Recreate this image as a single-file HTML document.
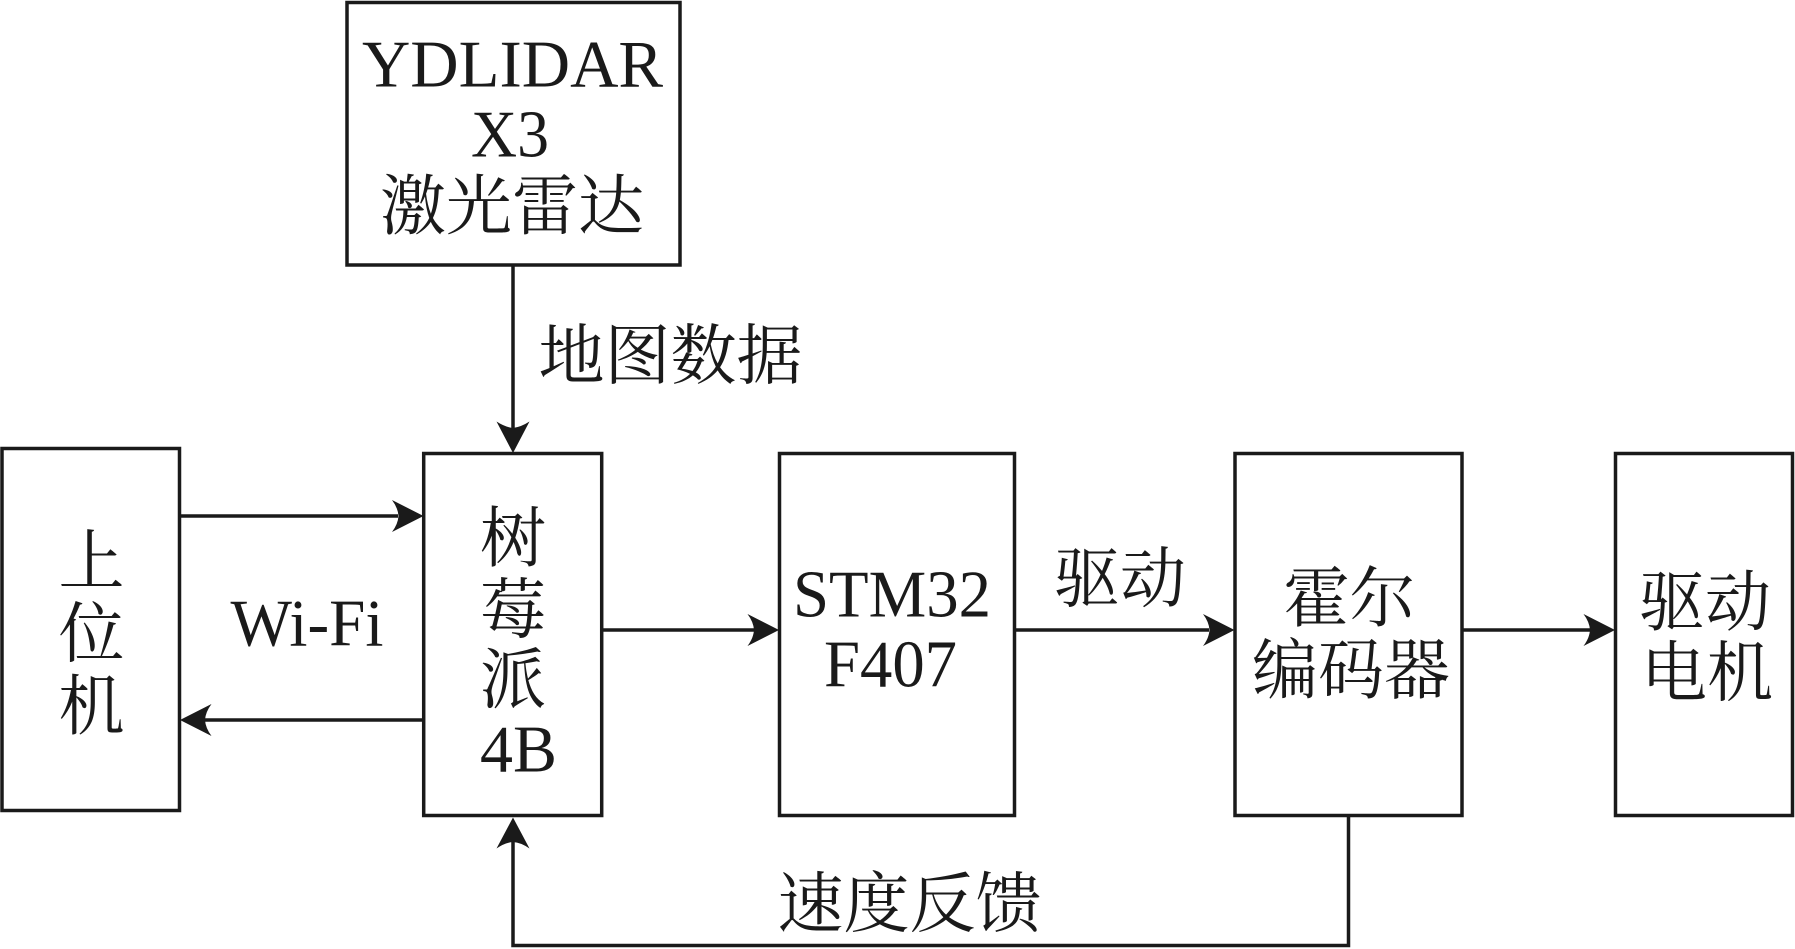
<!DOCTYPE html>
<html>
<head>
<meta charset="utf-8">
<style>
html,body{margin:0;padding:0;background:#fff;}
svg{display:block;}
text{font-family:"Liberation Serif","Noto Serif CJK SC",serif;fill:#1a1a1a;}
.cjk{font-size:66px;}
.lat{font-size:67px;}
</style>
</head>
<body>
<svg width="1795" height="949" viewBox="0 0 1795 949" xmlns="http://www.w3.org/2000/svg">
<g fill="none" stroke="#1a1a1a" stroke-width="3.5">
  <!-- boxes -->
  <rect x="347" y="2.5" width="333" height="262.5"/>
  <rect x="2" y="448.5" width="177.5" height="362"/>
  <rect x="423.7" y="453.5" width="178" height="362"/>
  <rect x="779.5" y="453.5" width="235" height="362"/>
  <rect x="1235" y="453.5" width="227" height="362"/>
  <rect x="1615.5" y="453.5" width="177" height="362"/>
  <!-- connectors -->
  <line x1="513" y1="265" x2="513" y2="428"/>
  <line x1="179.5" y1="516" x2="398" y2="516"/>
  <line x1="423.7" y1="720" x2="205" y2="720"/>
  <line x1="601.7" y1="630" x2="754" y2="630"/>
  <line x1="1014.5" y1="630" x2="1209" y2="630"/>
  <line x1="1462" y1="630" x2="1590" y2="630"/>
  <polyline points="1348.5,815.5 1348.5,945.5 513,945.5 513,842"/>
</g>
<g fill="#1a1a1a" stroke="none">
  <!-- down arrow into Pi -->
  <path d="M513,453 L496.5,421.5 Q505,427 513,428 Q521,427 529.5,421.5 Z"/>
  <!-- right arrow into Pi -->
  <path d="M423.5,516 L392,500 Q398,508 398.5,516 Q398,524 392,532 Z"/>
  <!-- left arrow into host -->
  <path d="M180,720 L211.5,704 Q205.5,712 205,720 Q205.5,728 211.5,736 Z"/>
  <!-- Pi -> STM -->
  <path d="M779,630 L747.5,614 Q753.5,622 754,630 Q753.5,638 747.5,646 Z"/>
  <!-- STM -> Hall -->
  <path d="M1234.5,630 L1203,614 Q1209,622 1209.5,630 Q1209,638 1203,646 Z"/>
  <!-- Hall -> Motor -->
  <path d="M1615,630 L1583.5,614 Q1589.5,622 1590,630 Q1589.5,638 1583.5,646 Z"/>
  <!-- feedback up arrow -->
  <path d="M513,817.5 L496.5,848.5 Q505,842.5 513,842 Q521,842.5 529.5,848.5 Z"/>
</g>

<!-- LIDAR -->
<text class="lat" x="512.5" y="86.7" text-anchor="middle" textLength="301" lengthAdjust="spacingAndGlyphs">YDLIDAR</text>
<text class="lat" x="510" y="156.7" text-anchor="middle" textLength="78" lengthAdjust="spacingAndGlyphs">X3</text>
<text class="cjk" x="512" y="229" text-anchor="middle">激光雷达</text>

<!-- map data label -->
<text class="cjk" x="670.5" y="378.5" text-anchor="middle">地图数据</text>

<!-- host -->
<text class="cjk" x="91.5" y="584" text-anchor="middle">上</text>
<text class="cjk" x="91.5" y="656.5" text-anchor="middle">位</text>
<text class="cjk" x="91.5" y="729" text-anchor="middle">机</text>

<!-- Wi-Fi -->
<text class="lat" x="307" y="645.7" text-anchor="middle" textLength="153" lengthAdjust="spacingAndGlyphs">Wi-Fi</text>

<!-- Raspberry Pi -->
<text class="cjk" x="513" y="561" text-anchor="middle">树</text>
<text class="cjk" x="513" y="632.5" text-anchor="middle">莓</text>
<text class="cjk" x="513" y="702.5" text-anchor="middle">派</text>
<text class="lat" x="518.5" y="771.7" text-anchor="middle" textLength="77" lengthAdjust="spacingAndGlyphs">4B</text>

<!-- STM32 -->
<text class="lat" x="892" y="616.7" text-anchor="middle" textLength="198" lengthAdjust="spacingAndGlyphs">STM32</text>
<text class="lat" x="890.5" y="686.7" text-anchor="middle" textLength="133" lengthAdjust="spacingAndGlyphs">F407</text>

<!-- drive label -->
<text class="cjk" x="1120" y="601.5" text-anchor="middle">驱动</text>

<!-- Hall encoder -->
<text class="cjk" x="1349.5" y="621" text-anchor="middle">霍尔</text>
<text class="cjk" x="1351" y="693" text-anchor="middle">编码器</text>

<!-- motor -->
<text class="cjk" x="1705" y="625" text-anchor="middle">驱动</text>
<text class="cjk" x="1707" y="695.5" text-anchor="middle">电机</text>

<!-- feedback -->
<text class="cjk" x="909.5" y="926.5" text-anchor="middle">速度反馈</text>
</svg>
</body>
</html>
